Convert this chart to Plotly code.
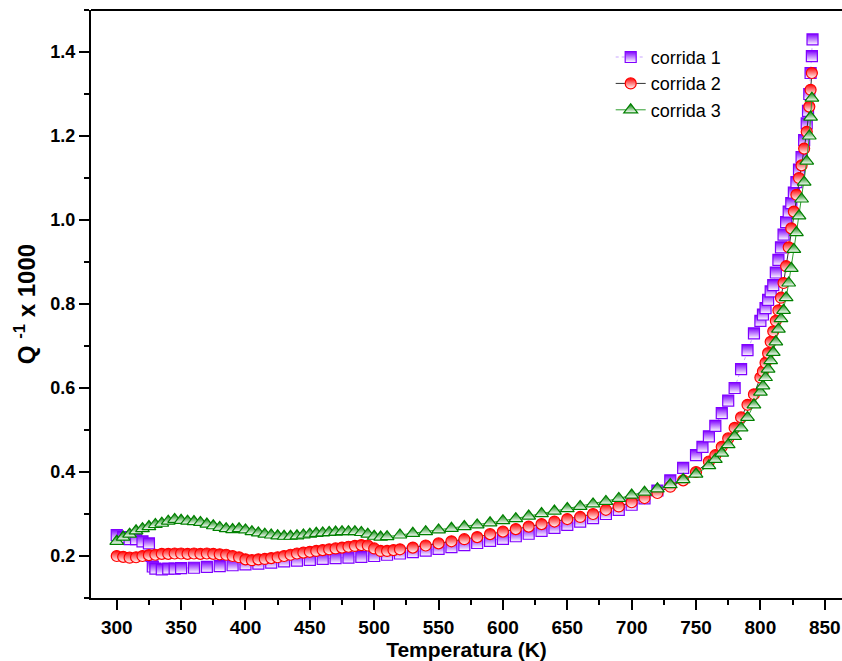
import plotly.graph_objects as go

# ---- data ----
t1 = [300, 305, 310, 315, 320, 325, 327, 328, 330, 335, 340, 345, 350, 360, 370, 380, 390, 400,
      410, 420, 430, 440, 450, 460, 470, 480, 490, 500, 510, 520, 530, 540, 550, 560, 570, 580,
      590, 600, 610, 620, 630, 640, 650, 660, 670, 680, 690, 700, 710, 720, 730, 740, 750, 755,
      760, 765, 770, 775, 780, 785, 790, 795, 800, 802, 804, 806, 808, 810, 812, 814, 816, 818,
      820, 822, 824, 826, 828, 830, 832, 834, 836, 837, 838, 839, 840, 840.5]
q1 = [0.25, 0.245, 0.24, 0.24, 0.235, 0.23, 0.2, 0.175, 0.17, 0.168, 0.17, 0.17, 0.171, 0.172,
      0.174, 0.176, 0.178, 0.18, 0.182, 0.184, 0.187, 0.189, 0.191, 0.193, 0.195, 0.196, 0.198,
      0.2, 0.203, 0.206, 0.209, 0.213, 0.217, 0.221, 0.226, 0.231, 0.236, 0.241, 0.247, 0.253,
      0.26, 0.267, 0.274, 0.282, 0.29, 0.3, 0.31, 0.322, 0.337, 0.356, 0.38, 0.41, 0.44, 0.46,
      0.485, 0.51, 0.54, 0.57, 0.6, 0.645, 0.69, 0.73, 0.76, 0.775, 0.79, 0.81, 0.83, 0.845,
      0.875, 0.905, 0.935, 0.965, 0.995, 1.02, 1.04, 1.065, 1.09, 1.12, 1.15, 1.19, 1.23, 1.26,
      1.3, 1.35, 1.39, 1.43]

t2 = [300, 305, 310, 315, 320, 325, 330, 335, 340, 345, 350, 355, 360, 365, 370, 375, 380, 385,
      390, 395, 400, 405, 410, 415, 420, 425, 430, 435, 440, 445, 450, 455, 460, 465, 470, 475,
      480, 485, 490, 495, 500, 505, 510, 515, 520, 530, 540, 550, 560, 570, 580, 590, 600, 610,
      620, 630, 640, 650, 660, 670, 680, 690, 700, 710, 720, 730, 740, 750, 760, 765, 770, 775,
      780, 785, 790, 795, 800, 802, 804, 806, 808, 810, 812, 814, 816, 818, 820, 822, 824, 826,
      828, 830, 832, 834, 836, 838, 839, 840]
q2 = [0.2, 0.198, 0.196, 0.197, 0.2, 0.202, 0.203, 0.205, 0.205, 0.206, 0.206, 0.205, 0.206,
      0.205, 0.206, 0.205, 0.204, 0.203, 0.2, 0.197, 0.192, 0.19, 0.192, 0.193, 0.195, 0.197,
      0.2, 0.203, 0.206, 0.208, 0.21, 0.212, 0.214, 0.216, 0.218, 0.22, 0.222, 0.224, 0.226,
      0.225, 0.218, 0.212, 0.212, 0.214, 0.216, 0.22, 0.225, 0.23, 0.235, 0.24, 0.245, 0.252,
      0.258, 0.264, 0.27, 0.276, 0.282, 0.288, 0.293, 0.3, 0.31, 0.318, 0.328, 0.338, 0.35,
      0.365, 0.38, 0.4, 0.425, 0.44, 0.46, 0.48, 0.505, 0.53, 0.56, 0.585, 0.625, 0.64, 0.66,
      0.683, 0.71, 0.735, 0.76, 0.785, 0.815, 0.85, 0.89, 0.935, 0.98, 1.02, 1.06, 1.1, 1.13,
      1.17, 1.21, 1.27, 1.31, 1.35]

t3 = [300, 305, 310, 315, 320, 325, 330, 335, 340, 345, 350, 355, 360, 365, 370, 375, 380, 385,
      390, 395, 400, 405, 410, 415, 420, 425, 430, 435, 440, 445, 450, 455, 460, 465, 470, 475,
      480, 485, 490, 495, 500, 505, 510, 520, 530, 540, 550, 560, 570, 580, 590, 600, 610, 620,
      630, 640, 650, 660, 670, 680, 690, 700, 710, 720, 730, 740, 750, 760, 765, 770, 775, 780,
      785, 790, 795, 800, 802, 804, 806, 808, 810, 812, 814, 816, 818, 820, 822, 824, 826, 828,
      830, 832, 834, 836, 838, 839, 840]
q3 = [0.235, 0.245, 0.252, 0.26, 0.265, 0.27, 0.275, 0.278, 0.283, 0.287, 0.285, 0.283, 0.282,
      0.28, 0.276, 0.272, 0.268, 0.265, 0.263, 0.265, 0.262, 0.258, 0.255, 0.252, 0.25, 0.248,
      0.247, 0.247, 0.248, 0.25, 0.252, 0.254, 0.255, 0.256, 0.257, 0.258, 0.258, 0.258, 0.256,
      0.252, 0.247, 0.245, 0.246, 0.25, 0.254, 0.258, 0.262, 0.266, 0.27, 0.274, 0.279, 0.284,
      0.289, 0.295, 0.301, 0.307, 0.313, 0.318, 0.324, 0.33, 0.337, 0.345, 0.352, 0.36, 0.37,
      0.382, 0.395, 0.415, 0.43, 0.445, 0.465, 0.485, 0.505, 0.53, 0.56, 0.59, 0.605, 0.625,
      0.645, 0.665, 0.685, 0.71, 0.74, 0.765, 0.785, 0.815, 0.85, 0.885, 0.93, 0.97, 1.01, 1.05,
      1.09, 1.14, 1.2, 1.245, 1.29]

names = ["corrida 1", "corrida 2", "corrida 3"]
colors = ["#7F00FF", "#FF0000", "#008000"]
line_colors = ["#C9A6FF", "#333333", "#2E9E2E"]
line_dash = ["dot", "solid", "solid"]
symbols = ["square", "circle", "triangle-up"]
sizes = [11, 11, 12]

xs = [t1, t2, t3]
ys = [q1, q2, q3]

fig = go.Figure()
for i in range(3):
    fig.add_trace(go.Scatter(
        x=xs[i], y=ys[i], name=names[i], mode="lines+markers",
        line=dict(color=line_colors[i], width=1, dash=line_dash[i]),
        marker=dict(symbol=symbols[i], size=sizes[i], color=colors[i],
                    gradient=dict(type="vertical", color="white"),
                    line=dict(color=colors[i], width=1.2)),
    ))

FONT = "Liberation Sans, Arial"
tick_font_x = dict(family=FONT, size=19, color="black", weight="bold")
tick_font_y = dict(family=FONT, size=18, color="black", weight="bold")

fig.update_layout(
    width=842, height=661,
    margin=dict(l=91, r=0, t=10, b=63),
    paper_bgcolor="white", plot_bgcolor="white",
    showlegend=True,
    legend=dict(x=0.692, y=0.951, xanchor="left", yanchor="top",
                font=dict(family=FONT, size=18, color="black"),
                bgcolor="rgba(0,0,0,0)"),
    xaxis=dict(range=[280, 863.4], tick0=0, dtick=50, ticks="outside", ticklen=10, tickwidth=1.5,
               tickcolor="black", showline=True, linecolor="black", linewidth=2,
               showgrid=False, zeroline=False, tickfont=tick_font_x, ticklabelstandoff=1,
               ticklabeloverflow="allow",
               minor=dict(dtick=25, ticks="outside", ticklen=5, tickwidth=1.5, tickcolor="black"),
               title=dict(text="Temperatura (K)", standoff=1,
                          font=dict(family=FONT, size=21, color="black", weight="bold"))),
    yaxis=dict(range=[0.1, 1.5], tick0=0, dtick=0.2, ticks="outside", ticklen=10, tickwidth=1.5,
               tickcolor="black", showline=True, linecolor="black", linewidth=2,
               showgrid=False, zeroline=False, tickfont=tick_font_y, tickformat=".1f",
               minor=dict(dtick=0.1, ticks="outside", ticklen=5, tickwidth=1.5, tickcolor="black"),
               title=dict(text="Q <sup>-1</sup> x 1000", standoff=8,
                          font=dict(family=FONT, size=24, color="black", weight="bold"))),
    shapes=[dict(type="line", xref="paper", yref="paper", x0=0, x1=1, y0=1, y1=1,
                 line=dict(color="black", width=2))],
)

fig.write_html("out.html")
